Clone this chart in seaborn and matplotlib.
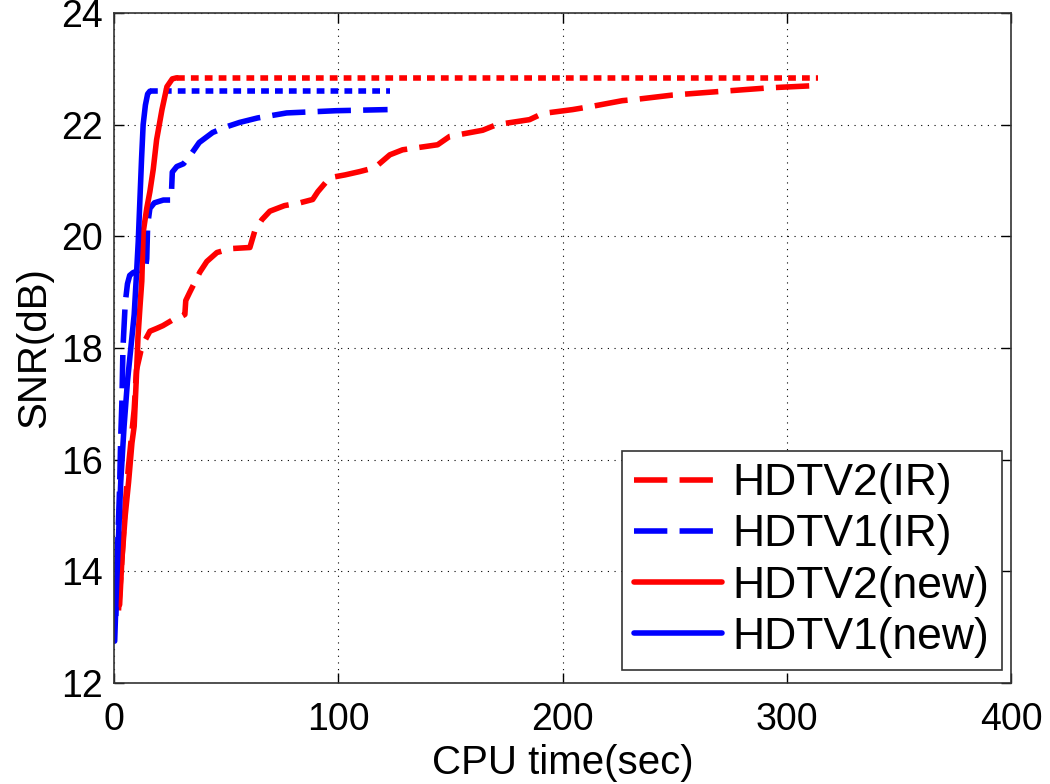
import matplotlib
matplotlib.use('Agg')
import matplotlib.pyplot as plt
import seaborn as sns

# HDTV2 (IR) - red dashed
hdtv2_ir_t = [2.0, 3.5, 5.0, 6.5, 8.0, 9.0, 10.0, 12.0, 14.0, 16.0, 19.0, 21.8, 26.0, 29.4, 31.6,
              32.0, 33.8, 38.3, 41.4, 45.9, 52.0, 60.6, 62.8, 66.0, 69.5, 76.0, 82.9, 88.6, 90.9,
              96.2, 103.0, 109.6, 116.3, 123.0, 128.7, 144.3, 149.7, 164.4, 170.6, 185.3, 191.1,
              204.5, 213.4, 226.7, 234.3, 249.0, 268.6, 292.2, 313.1]
hdtv2_ir_snr = [13.3, 14.2, 15.2, 15.9, 16.5, 16.9, 17.6, 17.95, 18.15, 18.3, 18.35, 18.4, 18.5,
                18.55, 18.6, 18.85, 19.0, 19.36, 19.55, 19.71, 19.78, 19.8, 20.1, 20.3, 20.45,
                20.55, 20.6, 20.66, 20.8, 21.05, 21.1, 21.16, 21.23, 21.46, 21.55, 21.64, 21.79,
                21.9, 22.0, 22.09, 22.2, 22.27, 22.33, 22.43, 22.46, 22.53, 22.59, 22.66, 22.7]

# HDTV1 (IR) - blue dashed
hdtv1_ir_t = [0.8, 1.5, 2.5, 3.0, 3.5, 4.0, 5.0, 6.0, 7.0, 8.5, 10.5, 12.0, 14.0, 14.6, 15.0,
              16.0, 18.0, 22.0, 25.5, 26.0, 28.0, 31.0, 34.0, 38.0, 44.0, 50.0, 56.0, 64.0,
              77.0, 99.0, 122.0]
hdtv1_ir_snr = [13.2, 14.3, 15.5, 16.4, 17.0, 18.0, 18.8, 19.15, 19.3, 19.35, 19.38, 19.4, 19.4,
                19.6, 20.2, 20.5, 20.6, 20.65, 20.65, 21.15, 21.25, 21.3, 21.45, 21.68, 21.86,
                21.96, 22.04, 22.12, 22.21, 22.25, 22.27]

# HDTV2 (new) - red solid
hdtv2_new_t = [2.5, 3.5, 5.0, 6.5, 8.0, 9.0, 10.0, 10.7, 11.6, 12.4, 13.0, 14.6, 16.0, 17.5,
               19.0, 21.4, 23.6, 26.0, 28.0]
hdtv2_new_snr = [13.4, 14.2, 15.0, 15.6, 16.3, 16.6, 17.5, 18.2, 18.75, 19.2, 20.07, 20.5, 20.8,
                 21.2, 21.73, 22.27, 22.68, 22.82, 22.84]

# HDTV1 (new) - blue solid
hdtv1_new_t = [0.3, 1.0, 2.0, 3.0, 4.5, 6.0, 7.5, 9.0, 10.0, 10.8, 11.5, 12.3, 13.0, 14.0, 15.0, 16.0]
hdtv1_new_snr = [12.75, 13.6, 14.6, 15.6, 16.6, 17.4, 18.0, 18.6, 19.3, 19.9, 20.6, 21.4, 22.0,
                 22.35, 22.55, 22.6]

# final values held (dotted)
hdtv2_hold_t = [28.0, 314.0]
hdtv2_hold_snr = [22.84, 22.84]
hdtv1_hold_t = [16.0, 123.0]
hdtv1_hold_snr = [22.6, 22.6]

x_ticks = [0, 100, 200, 300, 400]
y_ticks = [12, 14, 16, 18, 20, 22, 24]

sns.set_style('white')
plt.rcParams['font.family'] = ['Liberation Sans', 'DejaVu Sans']
plt.rcParams['text.color'] = 'black'
plt.rcParams['axes.labelcolor'] = 'black'
plt.rcParams['xtick.color'] = 'black'
plt.rcParams['ytick.color'] = 'black'

fig = plt.figure(figsize=(10.5, 7.84), dpi=100)
ax = fig.add_axes([114 / 1050, 1 - 683 / 784, (1011 - 114) / 1050, (683 - 13) / 784])

lw = 4
dash = (0, (6, 2.2))
dot = (0, (1.4, 1.1))

sns.lineplot(x=hdtv2_hold_t, y=hdtv2_hold_snr, ax=ax, color='#ff0000', lw=lw, linestyle=dot,
             estimator=None, sort=False, legend=False)
sns.lineplot(x=hdtv1_hold_t, y=hdtv1_hold_snr, ax=ax, color='#0000ff', lw=lw, linestyle=dot,
             estimator=None, sort=False, legend=False)

sns.lineplot(x=hdtv2_ir_t, y=hdtv2_ir_snr, ax=ax, color='#ff0000', lw=lw, linestyle=dash,
             estimator=None, sort=False, label='HDTV2(IR)')
sns.lineplot(x=hdtv1_ir_t, y=hdtv1_ir_snr, ax=ax, color='#0000ff', lw=lw, linestyle=dash,
             estimator=None, sort=False, label='HDTV1(IR)')
sns.lineplot(x=hdtv2_new_t, y=hdtv2_new_snr, ax=ax, color='#ff0000', lw=lw, linestyle='-',
             estimator=None, sort=False, label='HDTV2(new)')
sns.lineplot(x=hdtv1_new_t, y=hdtv1_new_snr, ax=ax, color='#0000ff', lw=lw, linestyle='-',
             estimator=None, sort=False, label='HDTV1(new)')

ax.set_xlim(0, 400)
ax.set_ylim(12, 24)
ax.set_xticks(x_ticks)
ax.set_yticks(y_ticks)
ax.grid(True, color='black', linestyle=(0, (1, 5)), linewidth=0.8)
ax.tick_params(direction='in', length=7, width=1, labelsize=27, top=True, right=True,
               bottom=True, left=True)
ax.tick_params(axis='x', pad=14)
ax.tick_params(axis='y', pad=8)
for s in ax.spines.values():
    s.set_color('#333333')
    s.set_linewidth(1.2)

ax.set_xlabel('CPU time(sec)', fontsize=29, labelpad=4)
ax.set_ylabel('SNR(dB)', fontsize=29, labelpad=6)

leg = ax.legend(loc='lower right', bbox_to_anchor=(0.990, 0.019), borderaxespad=0,
                fontsize=32, handlelength=1.98, handletextpad=0.23, labelspacing=0.23,
                borderpad=0.28, fancybox=False, framealpha=1, edgecolor='#333333')
leg.get_frame().set_linewidth(1.2)

fig.savefig('out.png', dpi=100)
